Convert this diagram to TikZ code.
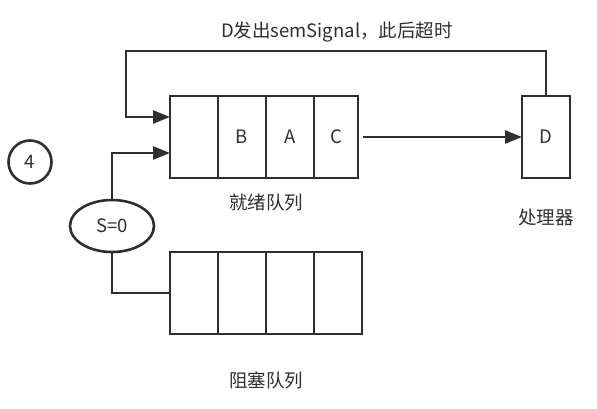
\documentclass[tikz,border=0pt]{standalone}
\usepackage{fontspec}
\setmainfont{Noto Sans CJK SC}
\usetikzlibrary{arrows.meta, positioning, shapes.geometric}
\definecolor{ink}{HTML}{2E2E2E}
\tikzset{
    cell/.style={draw=ink, line width=2.6pt, minimum width=48pt, minimum height=82pt, inner sep=0pt, outer sep=0pt},
    arr/.style={-{Triangle[length=17pt,width=13pt]}, draw=ink, line width=2.6pt},
    wire/.style={draw=ink, line width=2.6pt}
}
\begin{document}
\begin{tikzpicture}[x=1pt, y=-1pt]
    \useasboundingbox (0,0) rectangle (597,408);
    \tikzstyle{every node}=[text=ink, font=\fontsize{18.5}{21}\selectfont];
    % ready queue
    \node[cell] (r1) at (194,137) {};
    \node[cell, right=0pt of r1] (r2) {B};
    \node[cell, right=0pt of r2] (r3) {A};
    \node[cell, right=0pt of r3, minimum width=44pt] (r4) {C};
    \node (rlabel) at (266,202) {就绪队列};
    % processor
    \node[cell] (cpu) at (546,137) {D};
    \node (cpulabel) at (546,217) {处理器};
    % blocked queue
    \node[cell] (b1) at (194,293) {};
    \node[cell, right=0pt of b1] (b2) {};
    \node[cell, right=0pt of b2] (b3) {};
    \node[cell, right=0pt of b3] (b4) {};
    \node (blabel) at (266,380) {阻塞队列};
    % semaphore and step
    \node[draw=ink, line width=2.6pt, ellipse, minimum width=84pt, minimum height=52pt, inner sep=0pt] (sem) at (112,226) {S=0};
    \node[draw=ink, line width=2.6pt, circle, minimum size=43pt, inner sep=0pt] (num) at (30,162) {4};
    \node (title) at (337,32) {D发出semSignal，此后超时};
    \coordinate (loopL) at (126,51);
    \draw[arr] (cpu.north) |- (loopL) |- ([yshift=20pt]r1.west);
    \draw[arr] (sem.north) |- ([yshift=-16pt]r1.west);
    \draw[wire] (sem.south) |- (b1.west);
    \draw[arr, shorten <=5pt] (r4.east) -- (cpu.west);
\end{tikzpicture}
\end{document}
